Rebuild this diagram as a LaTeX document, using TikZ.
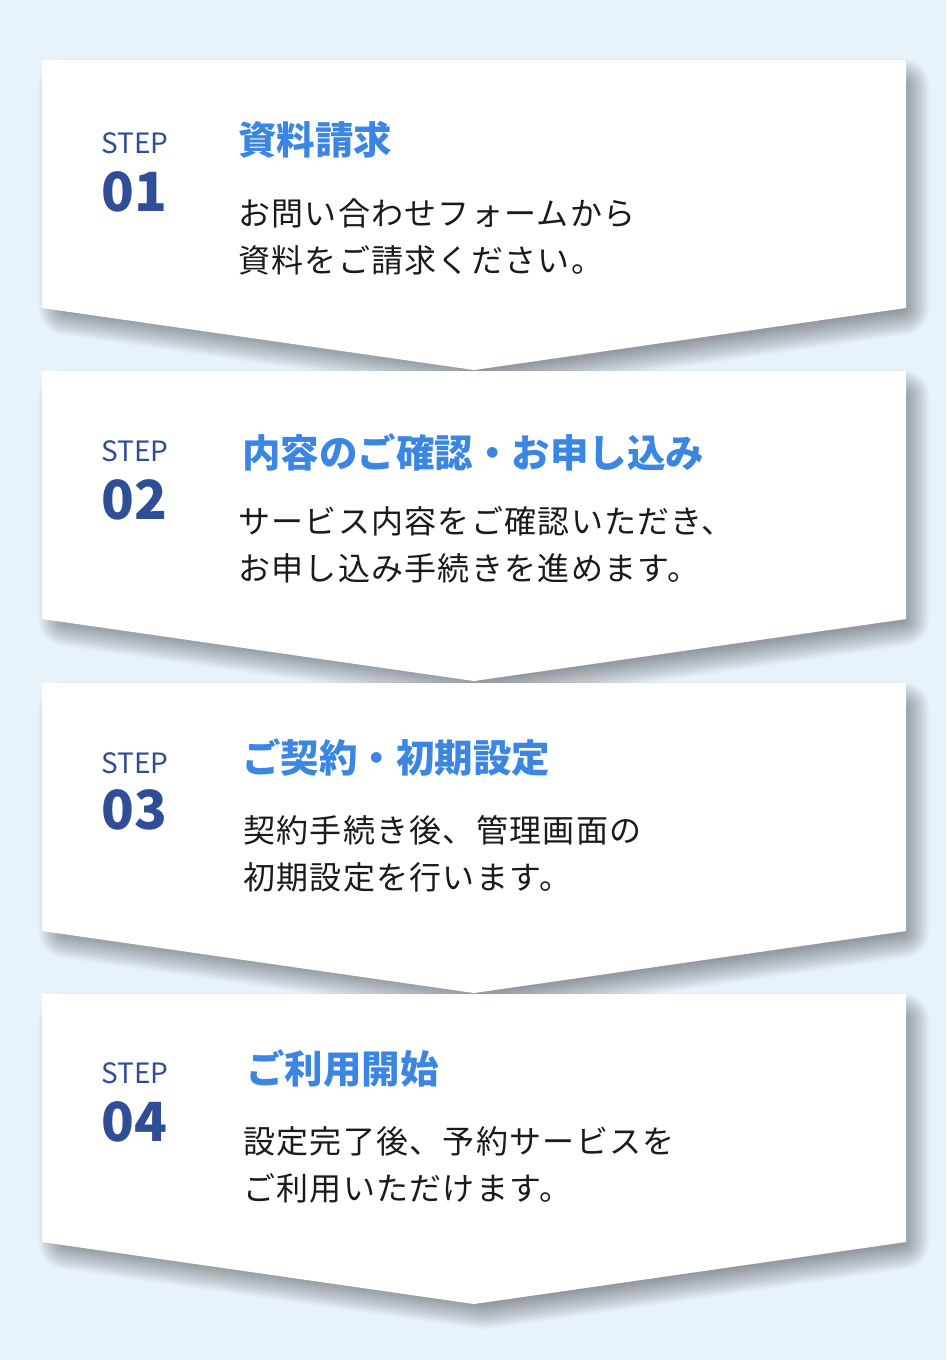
\documentclass[tikz,border=0pt]{standalone}
\usepackage{fontspec}
\setmainfont{Noto Sans CJK JP}
\newfontfamily\bodyfont{Noto Sans CJK JP}[LetterSpace=4]
\definecolor{bg}{HTML}{E8F2FB}
\definecolor{ttl}{HTML}{3A86E2}
\definecolor{num}{HTML}{2F4E97}
\definecolor{txt}{HTML}{1A1A1A}
\begin{document}
\begin{tikzpicture}[x=1pt,y=-1pt,
  card/.style={fill=white},
  shadowlayer/.style={fill=black, draw=black, line join=round},
  steplbl/.style={anchor=west, inner sep=0pt, text=num, font=\fontsize{28}{28}\selectfont},
  numlbl/.style={anchor=west, inner sep=0pt, text=num, font=\fontsize{54}{54}\selectfont\bfseries},
  ttllbl/.style={anchor=west, inner sep=0pt, text=ttl, font=\fontsize{38.5}{38.5}\selectfont\bfseries},
  bodylbl/.style={anchor=west, inner sep=0pt, text=txt, align=left, font=\bodyfont\fontsize{32}{47}\selectfont}]
\fill[bg] (0,0) rectangle (946,1360);
\useasboundingbox (0,0) rectangle (946,1360);
% cards with soft shadows
\foreach \t in {60,371,683,994}{
  \foreach \r in {1,3,...,27}{
    \begin{scope}[transparency group, opacity=0.0325]
      \path[shadowlayer, line width=2*\r pt] (66,\t+26) -- (902,\t+26) -- (902,\t+247.9) -- (484,\t+307.9) -- (66,\t+247.9) -- cycle;
    \end{scope}
  }
  \path[card] (42,\t) -- (906,\t) -- (906,\t+248) -- (474,\t+310) -- (42,\t+248) -- cycle;
}
% card 1
\node[steplbl] (s1) at (101,143) {STEP};
\node[numlbl] (n1) at (101,192) {01};
\node[ttllbl] (t1) at (238,140) {資料請求};
\node[bodylbl] (b1) at (238,236.5) {お問い合わせフォームから\\資料をご請求ください。};
% card 2
\node[steplbl] (s2) at (101,451) {STEP};
\node[numlbl] (n2) at (101,500) {02};
\node[ttllbl] (t2) at (242,452) {内容のご確認・お申し込み};
\node[bodylbl] (b2) at (238,544.5) {サービス内容をご確認いただき、\\お申し込み手続きを進めます。};
% card 3
\node[steplbl] (s3) at (101,763) {STEP};
\node[numlbl] (n3) at (101,810) {03};
\node[ttllbl] (t3) at (242,758) {ご契約・初期設定};
\node[bodylbl] (b3) at (243,853.5) {契約手続き後、管理画面の\\初期設定を行います。};
% card 4
\node[steplbl] (s4) at (101,1073) {STEP};
\node[numlbl] (n4) at (101,1122) {04};
\node[ttllbl] (t4) at (246,1069) {ご利用開始};
\node[bodylbl] (b4) at (243,1165) {設定完了後、予約サービスを\\ご利用いただけます。};
\end{tikzpicture}
\end{document}
